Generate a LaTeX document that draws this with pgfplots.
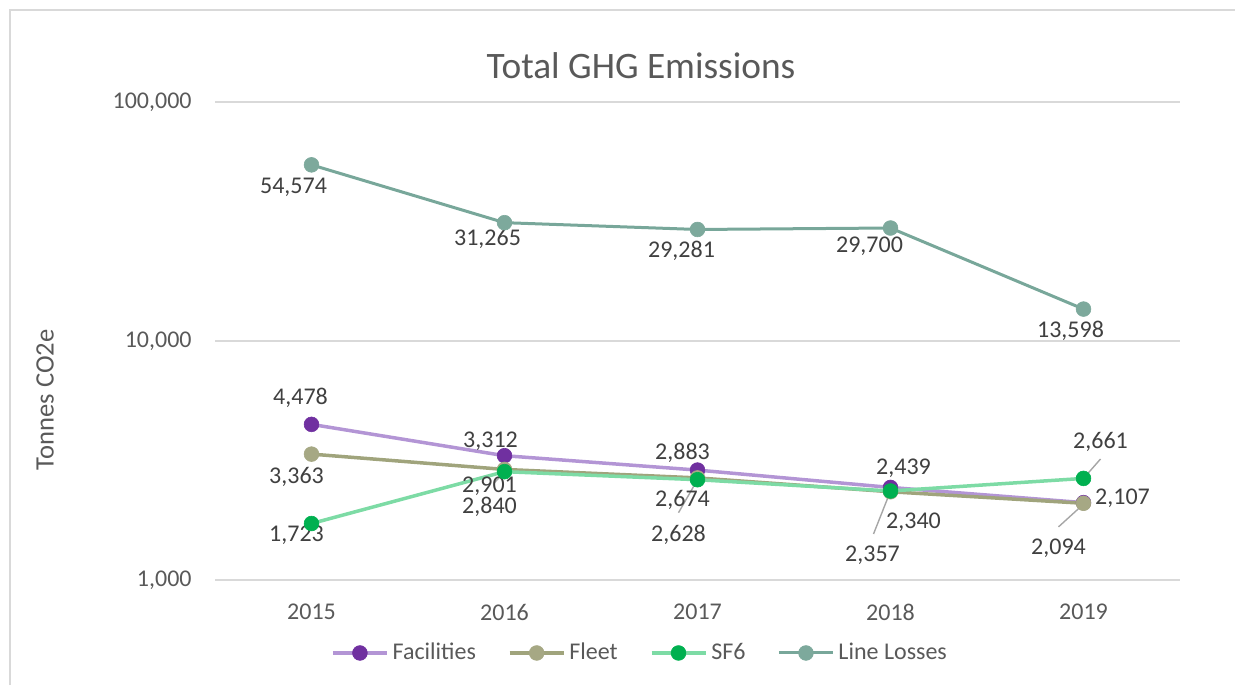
\documentclass[border=0pt]{standalone}
\usepackage{fontspec}
\setmainfont{Carlito}
\usepackage{pgfplots}
\pgfplotsset{compat=1.18}
\definecolor{gridc}{HTML}{D9D9D9}
\definecolor{tickc}{HTML}{595959}
\definecolor{lblc}{HTML}{404040}
\definecolor{leadc}{HTML}{A6A6A6}
\definecolor{facL}{HTML}{B395D5}
\definecolor{facM}{HTML}{7030A0}
\definecolor{flL}{HTML}{A0A47C}
\definecolor{flM}{HTML}{A6A884}
\definecolor{sfL}{HTML}{7DDBA5}
\definecolor{sfM}{HTML}{00B050}
\definecolor{llL}{HTML}{78A79A}
\definecolor{llM}{HTML}{7DA99C}
\begin{document}
\begin{tikzpicture}
\useasboundingbox (0,0) rectangle (617.5pt,342.5pt);
\draw[gridc, line width=1pt] (4.75pt,0) -- (4.75pt,337.5pt) -- (617.5pt,337.5pt);
\begin{axis}[
  at={(107.5pt,52.5pt)}, anchor=south west,
  width=482.5pt, height=239pt, scale only axis,
  xmin=-0.5, xmax=4.5,
  ymode=log, ymin=1000, ymax=100000,
  ytick={1000,10000,100000},
  yticklabels={{1,000},{10,000},{100,000}},
  yminorticks=false, minor tick length=0pt,
  xtick={0,1,2,3,4},
  xticklabels={2015,2016,2017,2018,2019},
  ymajorgrids, grid style={gridc, line width=1.1pt},
  axis line style={draw=none},
  major tick length=0pt,
  /pgf/number format/assume math mode=true,
  ticklabel style={font=\fontsize{12}{14}\selectfont, text=tickc},
  yticklabel style={anchor=east, inner sep=0pt, xshift=-11.5pt},
  xticklabel style={anchor=north, inner sep=0pt, yshift=-12pt},
  title={Total GHG Emissions},
  title style={at={(rel axis cs:0.4415,1.0502)}, anchor=center, font=\fontsize{18.67}{22}\selectfont, text=tickc},
  ylabel={Tonnes CO2e},
  ylabel style={at={(rel axis cs:-0.176,0.377)}, anchor=center, font=\fontsize{13.3}{16}\selectfont, text=tickc},
  legend columns=4,
  legend style={at={(rel axis cs:0.4415,-0.1527)}, anchor=center, draw=none, fill=none,
    font=\fontsize{12}{14}\selectfont, text=tickc,
    /tikz/every even column/.append style={column sep=14pt}},
  legend image code/.code={\draw[mark repeat=2,mark phase=2] plot coordinates {(0pt,0pt) (13.5pt,0pt) (27pt,0pt)};},
  every axis plot/.append style={line width=1.75pt, mark=*, mark size=3.7pt},
  clip=false,
]
\addplot[facL, mark options={fill=facM, draw=facM, line width=0.3pt}] coordinates {(0,4478) (1,3312) (2,2883) (3,2439) (4,2107)};
\addlegendentry{Facilities}
\addplot[flL, mark options={fill=flM, draw=flM, line width=0.3pt}] coordinates {(0,3363) (1,2901) (2,2674) (3,2340) (4,2094)};
\addlegendentry{Fleet}
\addplot[sfL, mark options={fill=sfM, draw=sfM, line width=0.3pt}] coordinates {(0,1723) (1,2840) (2,2628) (3,2357) (4,2661)};
\addlegendentry{SF6}
\addplot[llL, line width=1.5pt, mark options={fill=llM, draw=llM, line width=0.3pt}] coordinates {(0,54574) (1,31265) (2,29281) (3,29700) (4,13598)};
\addlegendentry{Line Losses}

% leader lines
\draw[leadc, line width=0.7pt] (axis cs:1,2840) -- ++(-5pt,-5.5pt);
\draw[leadc, line width=0.7pt] (axis cs:2,2628) -- ++(-9.5pt,-16.5pt);
\draw[leadc, line width=0.7pt] (axis cs:3,2357) -- ++(-8.5pt,-21.5pt);
\draw[leadc, line width=0.7pt] (axis cs:4,2661) -- ++(8.5pt,9.7pt);
\draw[leadc, line width=0.7pt] ([xshift=-1.5pt,yshift=-1.8pt]axis cs:4,2094) -- ([xshift=-12.5pt,yshift=-11.8pt]axis cs:4,2094);

\tikzset{lbl/.style={font=\fontsize{12}{14}\selectfont, text=lblc, inner sep=0pt, anchor=center}}
% Facilities
\node[lbl] at ([xshift=-5.5pt,yshift=13.5pt]axis cs:0,4478) {4,478};
\node[lbl] at ([xshift=-7pt,yshift=7pt]axis cs:1,3312) {3,312};
\node[lbl] at ([xshift=-7.5pt,yshift=8.5pt]axis cs:2,2883) {2,883};
\node[lbl] at ([xshift=6.5pt,yshift=9.5pt]axis cs:3,2439) {2,439};
\node[lbl] at ([xshift=19.5pt,yshift=2.3pt]axis cs:4,2107) {2,107};
% Fleet
\node[lbl] at ([xshift=-7.5pt,yshift=-11.5pt]axis cs:0,3363) {3,363};
\node[lbl] at ([xshift=-7.5pt,yshift=-8.5pt]axis cs:1,2901) {2,901};
\node[lbl] at ([xshift=-7.5pt,yshift=-11pt]axis cs:2,2674) {2,674};
\node[lbl] at ([xshift=11.5pt,yshift=-15.2pt]axis cs:3,2340) {2,340};
\node[lbl] at ([xshift=-12.5pt,yshift=-22.4pt]axis cs:4,2094) {2,094};
% SF6
\node[lbl] at ([xshift=-7.5pt,yshift=-6pt]axis cs:0,1723) {1,723};
\node[lbl] at ([xshift=-7.5pt,yshift=-17.8pt]axis cs:1,2840) {2,840};
\node[lbl] at ([xshift=-9.5pt,yshift=-27.7pt]axis cs:2,2628) {2,628};
\node[lbl] at ([xshift=-9pt,yshift=-32pt]axis cs:3,2357) {2,357};
\node[lbl] at ([xshift=8.5pt,yshift=18.2pt]axis cs:4,2661) {2,661};
% Line Losses
\node[lbl] at ([xshift=-9pt,yshift=-11pt]axis cs:0,54574) {54,574};
\node[lbl] at ([xshift=-8.5pt,yshift=-8pt]axis cs:1,31265) {31,265};
\node[lbl] at ([xshift=-8pt,yshift=-10.5pt]axis cs:2,29281) {29,281};
\node[lbl] at ([xshift=-10.5pt,yshift=-9pt]axis cs:3,29700) {29,700};
\node[lbl] at ([xshift=-6.5pt,yshift=-11pt]axis cs:4,13598) {13,598};
\end{axis}
\end{tikzpicture}
\end{document}
